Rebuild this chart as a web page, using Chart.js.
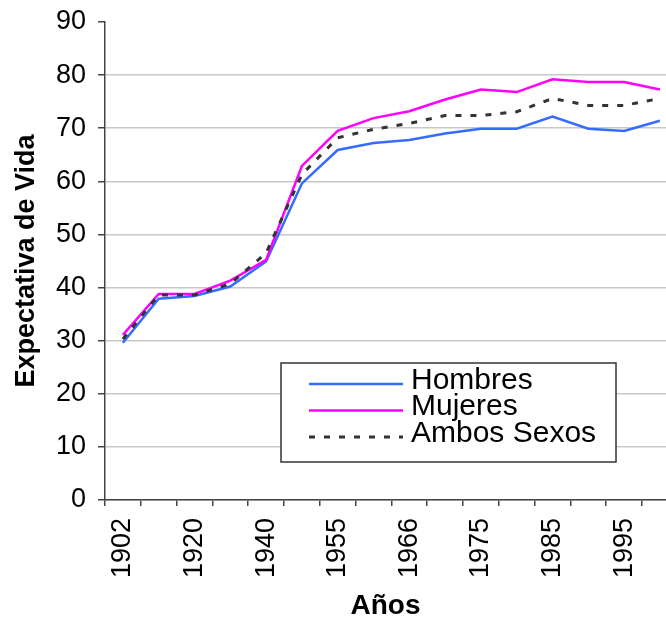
<!DOCTYPE html>
<html>
<head>
<meta charset="utf-8">
<script src="https://cdn.jsdelivr.net/npm/chart.js@4.4.1/dist/chart.umd.min.js"></script>
<style>
    html, body { margin: 0; padding: 0; background: #fff; }
    #wrap { width: 666px; height: 620px; }
</style>
</head>
<body>
<div id="wrap"><canvas id="chart" width="666" height="620"></canvas></div>
<script>
// años (solo cada segundo se rotula en el eje)
const years = ['1902', '1910', '1920', '1930', '1940', '1950', '1955', '1960',
               '1966', '1970', '1975', '1980', '1985', '1990', '1995', '2000'];
const hombres = [29.6, 37.9, 38.4, 40.2, 44.9, 59.6, 65.9, 67.2, 67.8, 69.0, 69.9, 69.9, 72.2, 69.9, 69.5, 71.4];
const mujeres = [31.1, 38.8, 38.8, 41.3, 45.2, 62.9, 69.5, 71.9, 73.2, 75.4, 77.3, 76.8, 79.2, 78.7, 78.7, 77.3];
const ambos   = [30.3, 38.6, 38.6, 40.7, 46.5, 61.3, 68.2, 69.8, 70.9, 72.4, 72.4, 73.1, 75.6, 74.3, 74.3, 75.6];
const yTicks = [0, 10, 20, 30, 40, 50, 60, 70, 80, 90];

const FONT = '"Liberation Sans", Arial, Helvetica, sans-serif';

const toPoints = (arr) => arr.map((v, i) => ({ x: i, y: v }));

// legend box drawn inside the plot, like the excel one
const boxLegend = {
    id: 'boxLegend',
    afterDraw(chart) {
        const { ctx, chartArea } = chart;
        const x0 = chartArea.left + 176;
        const y0 = chartArea.top + 341;
        const w = 335, h = 99;
        ctx.save();
        ctx.fillStyle = '#ffffff';
        ctx.fillRect(x0, y0, w, h);
        ctx.strokeStyle = '#333333';
        ctx.lineWidth = 1.5;
        ctx.strokeRect(x0, y0, w, h);

        ctx.font = '30px ' + FONT;
        ctx.textBaseline = 'middle';
        ctx.textAlign = 'left';
        chart.data.datasets.forEach((ds, i) => {
            const ly = y0 + 21 + i * 26.5;
            ctx.beginPath();
            ctx.strokeStyle = ds.borderColor;
            ctx.lineWidth = ds.borderWidth;
            ctx.setLineDash(ds.borderDash || []);
            ctx.moveTo(x0 + 28, ly);
            ctx.lineTo(x0 + 122, ly);
            ctx.stroke();
            ctx.setLineDash([]);
            ctx.fillStyle = '#000';
            ctx.fillText(ds.label, x0 + 130, ly - 3.5);
        });
        ctx.restore();
    }
};

new Chart('chart', {
    type: 'line',
    data: {
        datasets: [
            {
                label: 'Hombres',
                data: toPoints(hombres),
                borderColor: '#356bff',
                borderWidth: 2.5,
                order: 2
            },
            {
                label: 'Mujeres',
                data: toPoints(mujeres),
                borderColor: '#ff00ff',
                borderWidth: 2.5,
                order: 1
            },
            {
                label: 'Ambos Sexos',
                data: toPoints(ambos),
                borderColor: '#333333',
                borderWidth: 3,
                borderDash: [6, 9],
                order: 0
            }
        ]
    },
    options: {
        responsive: false,
        animation: false,
        layout: { padding: { top: 22, right: 0, bottom: 0, left: 0 } },
        elements: {
            point: { radius: 0 },
            line: { tension: 0, fill: false, borderCapStyle: 'butt' }
        },
        plugins: {
            legend: { display: false },
            tooltip: { enabled: false }
        },
        scales: {
            x: {
                type: 'linear',
                min: -0.5,
                max: 15.17,
                afterBuildTicks: (scale) => {
                    // one tick per category, the last one is off the picture
                    scale.ticks = years.slice(0, 15).map((_, i) => ({ value: i }));
                },
                afterFit: (scale) => { scale.height = 120; },
                grid: {
                    offset: true,
                    drawOnChartArea: false,
                    drawTicks: true,
                    tickLength: 6,
                    color: '#444',
                    lineWidth: 1.5
                },
                border: { color: '#444', width: 1.5 },
                ticks: {
                    autoSkip: false,
                    minRotation: 90,
                    maxRotation: 90,
                    padding: 12,
                    color: '#000',
                    font: { family: FONT, size: 27, lineHeight: 1 },
                    callback: (value, index) => (index % 2 === 0 ? years[value] : '')
                },
                title: {
                    display: true,
                    text: 'Años',
                    color: '#000',
                    font: { family: FONT, size: 28, weight: 'bold', lineHeight: 1 },
                    padding: { top: 0, bottom: 0 }
                }
            },
            y: {
                min: 0,
                max: 90,
                afterBuildTicks: (scale) => {
                    scale.ticks = yTicks.map(v => ({ value: v }));
                },
                afterFit: (scale) => {
                    scale.width = 105;
                    scale.paddingTop = 0;
                    scale.paddingBottom = 0;
                },
                grid: {
                    color: (c) => (c.tick && c.tick.value === 90 ? 'rgba(0,0,0,0)' : '#c8c8c8'),
                    lineWidth: 1.5,
                    tickColor: '#444',
                    tickLength: 7
                },
                border: { color: '#444', width: 1.5 },
                ticks: {
                    padding: 12,
                    color: '#000',
                    font: { family: FONT, size: 27, lineHeight: 1 }
                },
                title: {
                    display: true,
                    text: 'Expectativa de Vida',
                    color: '#000',
                    font: { family: FONT, size: 27, weight: 'bold', lineHeight: 1 },
                    padding: { top: 13.5, bottom: 0 }
                }
            }
        }
    },
    plugins: [boxLegend]
});
</script>
</body>
</html>
